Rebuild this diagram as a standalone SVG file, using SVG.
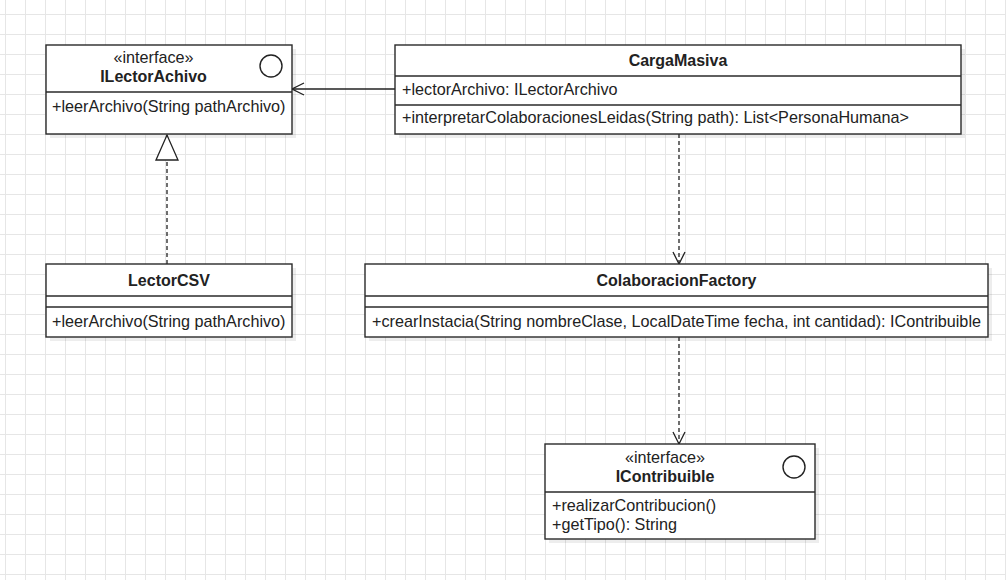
<svg xmlns="http://www.w3.org/2000/svg" width="1006" height="580" viewBox="0 0 1006 580">
<style>
.box{fill:#fff;stroke:#2a2a2a;stroke-width:1.4}
.shd{fill:#000;fill-opacity:0.07}
.div{stroke:#2a2a2a;stroke-width:1.3}
.t{font-family:"Liberation Sans",Arial,sans-serif;font-size:16.2px;fill:#222}
.b{font-weight:bold;text-anchor:middle;font-size:16px}
.c{text-anchor:middle}
.icon{fill:#fff;stroke:#222;stroke-width:1.4}
.ln{fill:none;stroke:#222;stroke-width:1.3}
.dash{stroke-dasharray:4 3}
</style>
<defs>
<pattern id="grid" x="5" y="14" width="20" height="20" patternUnits="userSpaceOnUse">
<path d="M0.5 0V20M0 0.5H20" fill="none" stroke="#e6e6e6" stroke-width="1"/>
</pattern>
<marker id="open" viewBox="0 0 14 14" refX="13" refY="7" markerWidth="14" markerHeight="14" markerUnits="userSpaceOnUse" orient="auto">
<path d="M1 1L13 7L1 13" fill="none" stroke="#222" stroke-width="1.3"/>
</marker>
<marker id="tri" viewBox="0 0 28 24" refX="26" refY="12" markerWidth="28" markerHeight="24" markerUnits="userSpaceOnUse" orient="auto">
<path d="M1 1L26 12L1 23Z" fill="#fff" stroke="#222" stroke-width="1.3"/>
</marker>
</defs>
<rect width="1006" height="580" fill="#fff"/>
<rect width="1006" height="580" fill="url(#grid)"/>

<g id="connectors">
<line class="ln" x1="395" y1="89" x2="292" y2="89" marker-end="url(#open)"/>
<line class="ln dash" x1="167" y1="264" x2="167" y2="135" marker-end="url(#tri)"/>
<line class="ln dash" x1="679" y1="134" x2="679" y2="264" marker-end="url(#open)"/>
<line class="ln dash" x1="679" y1="337" x2="679" y2="444" marker-end="url(#open)"/>
</g>

<g id="ILectorAchivo">
<rect class="shd" x="50" y="49" width="246" height="89"/>
<rect class="box" x="46" y="45" width="246" height="89"/>
<line class="div" x1="46" y1="92" x2="292" y2="92"/>
<circle class="icon" cx="271" cy="66" r="11"/>
<text class="t c" x="153.5" y="63">«interface»</text>
<text class="t b" x="153.5" y="82">ILectorAchivo</text>
<text class="t" x="52" y="112">+leerArchivo(String pathArchivo)</text>
</g>

<g id="CargaMasiva">
<rect class="shd" x="399" y="49" width="566" height="89"/>
<rect class="box" x="395" y="45" width="566" height="89"/>
<line class="div" x1="395" y1="76" x2="961" y2="76"/>
<line class="div" x1="395" y1="105" x2="961" y2="105"/>
<text class="t b" x="678" y="66">CargaMasiva</text>
<text class="t" x="402" y="95">+lectorArchivo: ILectorArchivo</text>
<text class="t" x="402" y="123">+interpretarColaboracionesLeidas(String path): List&lt;PersonaHumana&gt;</text>
</g>

<g id="LectorCSV">
<rect class="shd" x="50" y="268" width="246" height="73"/>
<rect class="box" x="46" y="264" width="246" height="73"/>
<line class="div" x1="46" y1="296" x2="292" y2="296"/>
<line class="div" x1="46" y1="307" x2="292" y2="307"/>
<text class="t b" x="169" y="286">LectorCSV</text>
<text class="t" x="52" y="327">+leerArchivo(String pathArchivo)</text>
</g>

<g id="ColaboracionFactory">
<rect class="shd" x="369" y="268" width="623" height="73"/>
<rect class="box" x="365" y="264" width="623" height="73"/>
<line class="div" x1="365" y1="296" x2="988" y2="296"/>
<line class="div" x1="365" y1="307" x2="988" y2="307"/>
<text class="t b" x="676.5" y="286">ColaboracionFactory</text>
<text class="t" x="372" y="327">+crearInstacia(String nombreClase, LocalDateTime fecha, int cantidad): IContribuible</text>
</g>

<g id="IContribuible">
<rect class="shd" x="549" y="448" width="270" height="95"/>
<rect class="box" x="545" y="444" width="270" height="95"/>
<line class="div" x1="545" y1="492" x2="815" y2="492"/>
<circle class="icon" cx="794" cy="467" r="11"/>
<text class="t c" x="665" y="463">«interface»</text>
<text class="t b" x="665" y="482">IContribuible</text>
<text class="t" x="552" y="511">+realizarContribucion()</text>
<text class="t" x="552" y="530">+getTipo(): String</text>
</g>
</svg>
